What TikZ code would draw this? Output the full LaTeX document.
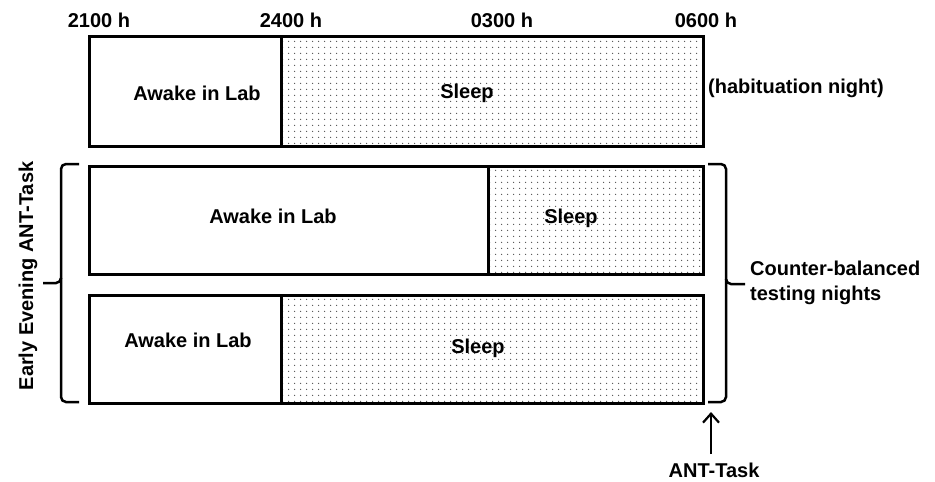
\documentclass[tikz,border=0pt]{standalone}
\usepackage{fontspec}
\setmainfont{Liberation Sans}
\usetikzlibrary{patterns.meta,arrows.meta}
\tikzdeclarepattern{
  name=sleepdots,
  type=colored,
  bottom left={(0pt,0pt)},
  top right={(5.6pt,5.6pt)},
  tile size={(5.6pt,5.6pt)},
  code={\fill[black!70] (2.8pt,2.8pt) circle (0.75pt);}
}
\begin{document}
\begin{tikzpicture}[x=1pt,y=-1pt,
  every node/.style={font=\fontsize{20}{24}\selectfont\bfseries},
  awakebox/.style={draw, line width=3pt, inner sep=0pt, anchor=north west},
  sleepbox/.style={draw, line width=3pt, inner sep=0pt, anchor=north west, pattern=sleepdots},
  txt/.style={anchor=base, inner sep=0pt},
  brace/.style={line width=2.5pt, rounded corners=5pt},
  tip/.style={line width=2.2pt, -{Straight Barb[length=9pt,width=16pt]}}
]
\useasboundingbox (0,0) rectangle (935,482);
% top row (habituation)
\node[sleepbox, minimum width=422pt, minimum height=110pt] (sleepA) at (280,35) {};
\node[awakebox, minimum width=192pt, minimum height=110pt] (awakeA) at (88,35) {};
% middle row
\node[sleepbox, minimum width=215pt, minimum height=108pt] (sleepB) at (487,165) {};
\node[awakebox, minimum width=399pt, minimum height=108pt] (awakeB) at (88,165) {};
% bottom row
\node[sleepbox, minimum width=422pt, minimum height=108pt] (sleepC) at (280,294) {};
\node[awakebox, minimum width=192pt, minimum height=108pt] (awakeC) at (88,294) {};
% time labels
\node[txt] (t21) at (99,27) {2100 h};
\node[txt] (t24) at (291,27) {2400 h};
\node[txt] (t03) at (502,27) {0300 h};
\node[txt] (t06) at (706,27) {0600 h};
% box texts
\node[txt] (lA1) at (197,100) {Awake in Lab};
\node[txt] (lA2) at (467,98) {Sleep};
\node[txt, anchor=base west] (hab) at (708,93) {(habituation night)};
\node[txt] (lB1) at (273,223) {Awake in Lab};
\node[txt] (lB2) at (571,223) {Sleep};
\node[txt] (lC1) at (188,347) {Awake in Lab};
\node[txt] (lC2) at (478,353) {Sleep};
% braces
\draw[brace] (79,164) -- (61,164) -- (61,283) -- (43,283);
\draw[brace] (61,278) -- (61,402) -- (79,402);
\draw[brace] (708,164) -- (726,164) -- (726,284) -- (745,284);
\draw[brace] (726,279) -- (726,402) -- (708,402);
% side labels
\node[txt, rotate=90] (early) at (33,276) {Early Evening ANT-Task};
\node[txt, anchor=base west] (cb1) at (750,275) {Counter-balanced};
\node[txt, anchor=base west] (cb2) at (750,300) {testing nights};
% ANT-Task arrow
\node[txt] (ant) at (714,477) {ANT-Task};
\coordinate (antTip) at (711,412);
\coordinate (antTail) at (711,454);
\draw[tip] (antTail) -- (antTip);
\end{tikzpicture}
\end{document}
